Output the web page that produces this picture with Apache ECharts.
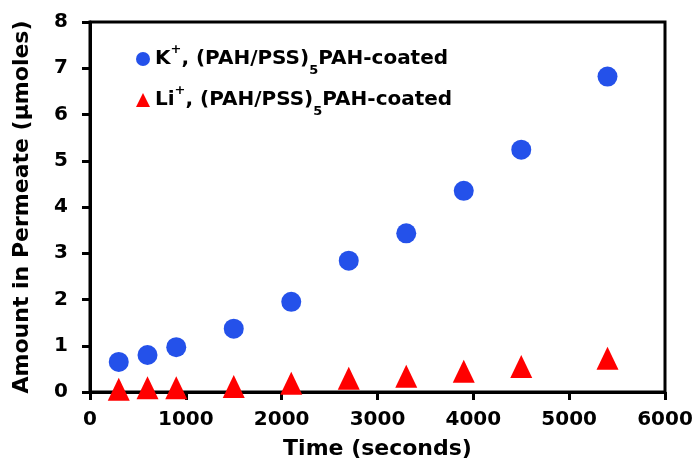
<!DOCTYPE html>
<html lang="en" style="height: 100%">
<head>
  <meta charset="utf-8">
</head>
<body style="height: 100%; margin: 0">
  <div id="container" style="width: 697px; height: 465px"></div>

  <script type="text/javascript" src="https://cdn.jsdelivr.net/npm/echarts@6/dist/echarts.min.js"></script>
  <script type="text/javascript">
    // time points (s)
    var times = [300, 600, 900, 1500, 2100, 2700, 3300, 3900, 4500, 5400];
    // K+ through coated membrane (µmoles)
    var kValues = [0.65, 0.80, 0.97, 1.37, 1.95, 2.84, 3.43, 4.35, 5.24, 6.82];
    // Li+ through coated membrane (µmoles)
    var liValues = [0.06, 0.09, 0.09, 0.12, 0.19, 0.30, 0.34, 0.45, 0.55, 0.73];

    var xTicks = [0, 1000, 2000, 3000, 4000, 5000, 6000];
    var yTicks = [0, 1, 2, 3, 4, 5, 6, 7, 8];

    function pairs(xs, ys) {
      return xs.map(function (x, i) { return [x, ys[i]]; });
    }

    var font = 'DejaVu Sans';
    var dom = document.getElementById('container');
    var myChart = echarts.init(dom, null, { renderer: 'canvas' });

    var option = {
      animation: false,
      grid: {
        left: 90, right: 32, top: 22, bottom: 72,
        show: true, borderColor: '#000', borderWidth: 3,
        containLabel: false
      },
      legend: {
        orient: 'vertical',
        left: 131,
        top: 36,
        itemWidth: 14,
        itemHeight: 14,
        itemGap: 5,
        data: [
          { name: 'K', icon: 'circle' },
          { name: 'Li', icon: 'triangle' }
        ],
        formatter: function (name) {
          return '{b|' + name + '}{sup|+}{b|, (PAH/PSS)}{sub|5}{b|PAH-coated}';
        },
        textStyle: {
          fontFamily: font,
          fontWeight: 'bold',
          fontSize: 20,
          color: '#000',
          rich: {
            b: { fontFamily: font, fontWeight: 'bold', fontSize: 20, lineHeight: 36, color: '#000' },
            sup: { fontFamily: font, fontWeight: 'bold', fontSize: 13, lineHeight: 13, verticalAlign: 'top', padding: [2, 0, 0, 0], color: '#000' },
            sub: { fontFamily: font, fontWeight: 'bold', fontSize: 13, lineHeight: 13, verticalAlign: 'bottom', color: '#000' }
          }
        }
      },
      xAxis: {
        type: 'value',
        min: xTicks[0],
        max: xTicks[xTicks.length - 1],
        interval: 1000,
        name: 'Time (seconds)',
        nameLocation: 'middle',
        nameGap: 46,
        nameTextStyle: { fontFamily: font, fontWeight: 'bold', fontSize: 22, color: '#000' },
        axisLine: { lineStyle: { color: '#000', width: 3 } },
        axisTick: { inside: false, length: 8, lineStyle: { color: '#000', width: 3 } },
        axisLabel: {
          margin: 18, fontFamily: font, fontWeight: 'bold', fontSize: 20, color: '#000',
          formatter: function (v) { return String(v); }
        },
        splitLine: { show: false }
      },
      yAxis: {
        type: 'value',
        min: yTicks[0],
        max: yTicks[yTicks.length - 1],
        interval: 1,
        name: 'Amount in Permeate (µmoles)',
        nameLocation: 'middle',
        nameGap: 57,
        nameTextStyle: { fontFamily: font, fontWeight: 'bold', fontSize: 22, color: '#000' },
        axisLine: { lineStyle: { color: '#000', width: 3 } },
        axisTick: { inside: false, length: 8, lineStyle: { color: '#000', width: 3 } },
        axisLabel: {
          margin: 22, fontFamily: font, fontWeight: 'bold', fontSize: 20, color: '#000',
          formatter: function (v) { return String(v); }
        },
        splitLine: { show: false }
      },
      series: [
        {
          name: 'K',
          type: 'scatter',
          symbol: 'circle',
          symbolSize: 20,
          clip: false,
          itemStyle: { color: '#2451EA', opacity: 1 },
          data: pairs(times, kValues)
        },
        {
          name: 'Li',
          type: 'scatter',
          symbol: 'triangle',
          symbolSize: [22, 23],
          clip: false,
          itemStyle: { color: '#FF0000', opacity: 1 },
          data: pairs(times, liValues)
        }
      ]
    };

    myChart.setOption(option);
    window.addEventListener('resize', myChart.resize);
  </script>
</body>
</html>
